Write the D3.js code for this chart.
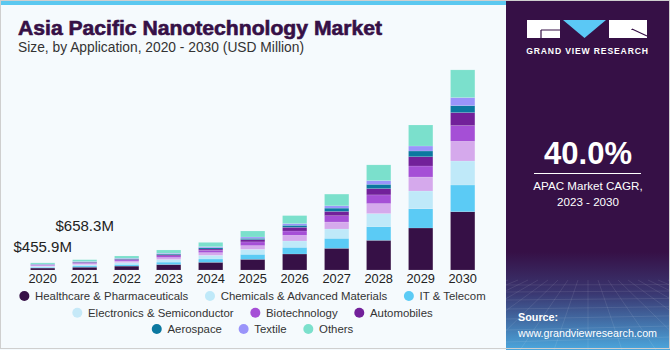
<!DOCTYPE html>
<html>
<head>
<meta charset="utf-8">
<script src="https://cdn.jsdelivr.net/npm/d3@7"></script>
<style>
  body { margin: 0; background: #fff; }
  svg { display: block; font-family: "Liberation Sans", Arial, sans-serif; }
</style>
</head>
<body>
<svg id="chart" width="670" height="350"></svg>
<script>
// Years on the x axis
const years = ["2020", "2021", "2022", "2023", "2024", "2025", "2026", "2027", "2028", "2029", "2030"];

// Series values in USD million, stacked bottom to top
const healthcare  = [125, 180, 250, 352, 493, 685, 1024, 1389, 1901, 2688, 3731];
const itTelecom   = [55, 80, 109, 154, 211, 320, 429, 640, 877, 1235, 1709];
const chemicals   = [59, 85, 115, 166, 237, 320, 403, 595, 832, 1133, 1536];
const electronics = [45, 65, 90, 128, 173, 237, 365, 448, 640, 896, 1261];
const biotech     = [38, 55, 77, 109, 147, 237, 275, 403, 557, 704, 1005];
const automobiles = [23, 33, 45, 64, 83, 147, 237, 275, 403, 595, 832];
const aerospace   = [19, 28, 38, 58, 83, 83, 128, 211, 275, 365, 448];
const textile     = [17, 24, 32, 45, 64, 83, 109, 147, 237, 320, 512];
const others      = [74.9, 108.3, 141, 205, 275, 384, 512, 749, 1005, 1344, 1773];

// Annotated totals
const annotations = [{ year: "2020", label: "$455.9M" }, { year: "2021", label: "$658.3M" }];

// Stack order, names and bar colours
const seriesKeys = ["healthcare", "itTelecom", "chemicals", "electronics", "biotech", "automobiles", "aerospace", "textile", "others"];
const seriesValues = [healthcare, itTelecom, chemicals, electronics, biotech, automobiles, aerospace, textile, others];
const barColors = ["#361046", "#5bcbf5", "#bfe9f9", "#d5a9ec", "#a54fd6", "#72209a", "#0b78a0", "#9a94fa", "#7be0cc"];

// Legend rows (name, dot colour)
const legendRows = [
  [["Healthcare & Pharmaceuticals", "#361046"], ["Chemicals & Advanced Materials", "#bfe9f9"], ["IT & Telecom", "#5bcbf5"]],
  [["Electronics & Semiconductor", "#c6e9f8"], ["Biotechnology", "#a54fd6"], ["Automobiles", "#72209a"]],
  [["Aerospace", "#0b78a0"], ["Textile", "#9a94fa"], ["Others", "#7be0cc"]]
];

const svg = d3.select("#chart");
const defs = svg.append("defs");

// Chart area background
svg.append("rect").attr("width", 670).attr("height", 350).attr("fill", "#f5fafd");
svg.append("rect").attr("x", 0).attr("y", 0).attr("width", 506).attr("height", 5).attr("fill", "#5bc8f0");

// Titles
svg.append("text")
  .attr("x", 18).attr("y", 35)
  .attr("textLength", 364).attr("lengthAdjust", "spacingAndGlyphs")
  .attr("font-size", 20).attr("font-weight", "bold")
  .attr("fill", "#361046").attr("stroke", "#361046").attr("stroke-width", 0.6)
  .text("Asia Pacific Nanotechnology Market");
svg.append("text")
  .attr("x", 18).attr("y", 52)
  .attr("font-size", 13.8).attr("fill", "#333")
  .text("Size, by Application, 2020 - 2030 (USD Million)");

// Scales
const x = d3.scaleBand().domain(years).range([21.7, 483.7]).paddingInner(0.42).paddingOuter(0.21);
const y = d3.scaleLinear().domain([0, 12800]).range([270, 70]);

// Build rows for the stack
const table = years.map((yr, i) => {
  const row = { year: yr };
  seriesKeys.forEach((k, j) => { row[k] = seriesValues[j][i]; });
  return row;
});
const stacked = d3.stack().keys(seriesKeys)(table);

svg.append("g")
  .selectAll("g")
  .data(stacked)
  .join("g")
  .attr("fill", (d, i) => barColors[i])
  .selectAll("rect")
  .data(d => d)
  .join("rect")
  .attr("x", d => x(d.data.year))
  .attr("y", d => y(d[1]))
  .attr("width", x.bandwidth())
  .attr("height", d => y(d[0]) - y(d[1]))
  .attr("stroke", "#ffffff").attr("stroke-opacity", 0.25).attr("stroke-width", 0.5);

// X axis
const xAxis = svg.append("g")
  .attr("transform", "translate(0,270)")
  .call(d3.axisBottom(x).tickSize(0).tickPadding(4));
xAxis.select(".domain").remove();
xAxis.selectAll("text")
  .attr("font-size", 12.8).attr("fill", "#222")
  .attr("font-family", "Liberation Sans, Arial, sans-serif");

// Total labels
const totalOf = yr => { const i = years.indexOf(yr); return d3.sum(seriesValues, s => s[i]); };
const labelOffsets = [11, 29];
svg.append("g")
  .selectAll("text")
  .data(annotations)
  .join("text")
  .attr("x", d => x(d.year) + x.bandwidth() / 2)
  .attr("y", (d, i) => y(totalOf(d.year)) - labelOffsets[i])
  .attr("text-anchor", "middle")
  .attr("font-size", 15).attr("fill", "#222")
  .text(d => d.label);

// Legend, each row centred
const legendY = [296, 312.7, 329];
const legend = svg.append("g").attr("font-size", 11.4).attr("fill", "#333");
legendRows.forEach((row, r) => {
  const g = legend.append("g");
  let cx = 0;
  row.forEach(([name, color]) => {
    g.append("circle").attr("cx", cx + 5).attr("cy", legendY[r]).attr("r", 5).attr("fill", color);
    const t = g.append("text").attr("x", cx + 15.7).attr("y", legendY[r] + 4.1).attr("fill", "#333").text(name);
    cx += 15.7 + t.node().getComputedTextLength() + 16.7;
  });
  const w = cx - 16.7;
  g.attr("transform", `translate(${252.5 - w / 2},0)`);
});

// Right panel
const grad = defs.append("linearGradient").attr("id", "panel-grad")
  .attr("x1", "0%").attr("y1", "0%").attr("x2", "0%").attr("y2", "100%");
grad.append("stop").attr("offset", "72%").attr("stop-color", "#361046");
grad.append("stop").attr("offset", "84%").attr("stop-color", "#3a3872");
grad.append("stop").attr("offset", "100%").attr("stop-color", "#4ba7dd");

const panel = svg.append("g");
panel.append("rect").attr("x", 506).attr("y", 0).attr("width", 164).attr("height", 350).attr("fill", "url(#panel-grad)");

// faint perspective grid at the bottom of the panel
const grid = panel.append("g").attr("stroke", "#ffffff").attr("stroke-opacity", 0.13).attr("stroke-width", 0.7).attr("fill", "none");
[285, 292, 300, 309, 319, 330, 342].forEach(gy => {
  grid.append("line").attr("x1", 506).attr("x2", 670).attr("y1", gy).attr("y2", gy - (gy - 280) * 0.08);
});
d3.range(-8, 9).forEach(k => {
  grid.append("line").attr("x1", 588 + k * 10).attr("y1", 280).attr("x2", 588 + k * 34).attr("y2", 350);
});

// Logo
panel.append("rect").attr("x", 527).attr("y", 20).attr("width", 33).attr("height", 18).attr("fill", "#fff");
panel.append("path").attr("d", "M541,30 H560 M541,30 V38").attr("stroke", "#361046").attr("stroke-width", 1.2).attr("fill", "none");
panel.append("path").attr("d", "M563,20 L606,20 L584.5,38 Z").attr("fill", "#5bc8f5");
panel.append("rect").attr("x", 609).attr("y", 20).attr("width", 38).attr("height", 18).attr("fill", "#fff");
panel.append("path").attr("d", "M632,29 L647,36 M632,29 V30").attr("stroke", "#361046").attr("stroke-width", 1.2).attr("fill", "none");
panel.append("text")
  .attr("x", 587.5).attr("y", 54).attr("text-anchor", "middle")
  .attr("font-size", 8.6).attr("font-weight", "bold").attr("letter-spacing", 0.85)
  .attr("fill", "#fff")
  .text("GRAND VIEW RESEARCH");

// CAGR
panel.append("text")
  .attr("x", 588).attr("y", 164).attr("text-anchor", "middle")
  .attr("font-size", 31).attr("font-weight", "bold").attr("fill", "#fff")
  .text("40.0%");
panel.append("line").attr("x1", 534).attr("x2", 641).attr("y1", 173.5).attr("y2", 173.5)
  .attr("stroke", "#fff").attr("stroke-width", 1);
panel.append("text")
  .attr("x", 588).attr("y", 190).attr("text-anchor", "middle")
  .attr("font-size", 11.6).attr("fill", "#fff")
  .text("APAC Market CAGR,");
panel.append("text")
  .attr("x", 588).attr("y", 206).attr("text-anchor", "middle")
  .attr("font-size", 11.6).attr("fill", "#fff")
  .text("2023 - 2030");

// Source
panel.append("text")
  .attr("x", 518).attr("y", 321)
  .attr("font-size", 10.8).attr("font-weight", "bold").attr("fill", "#fff")
  .text("Source:");
panel.append("text")
  .attr("x", 518).attr("y", 337)
  .attr("font-size", 10.7).attr("fill", "#fff")
  .text("www.grandviewresearch.com");

// Outer border
svg.append("rect").attr("x", 0.5).attr("y", 0.5).attr("width", 669).attr("height", 348)
  .attr("fill", "none").attr("stroke", "#cfcfcf").attr("stroke-width", 1);
</script>
</body>
</html>
